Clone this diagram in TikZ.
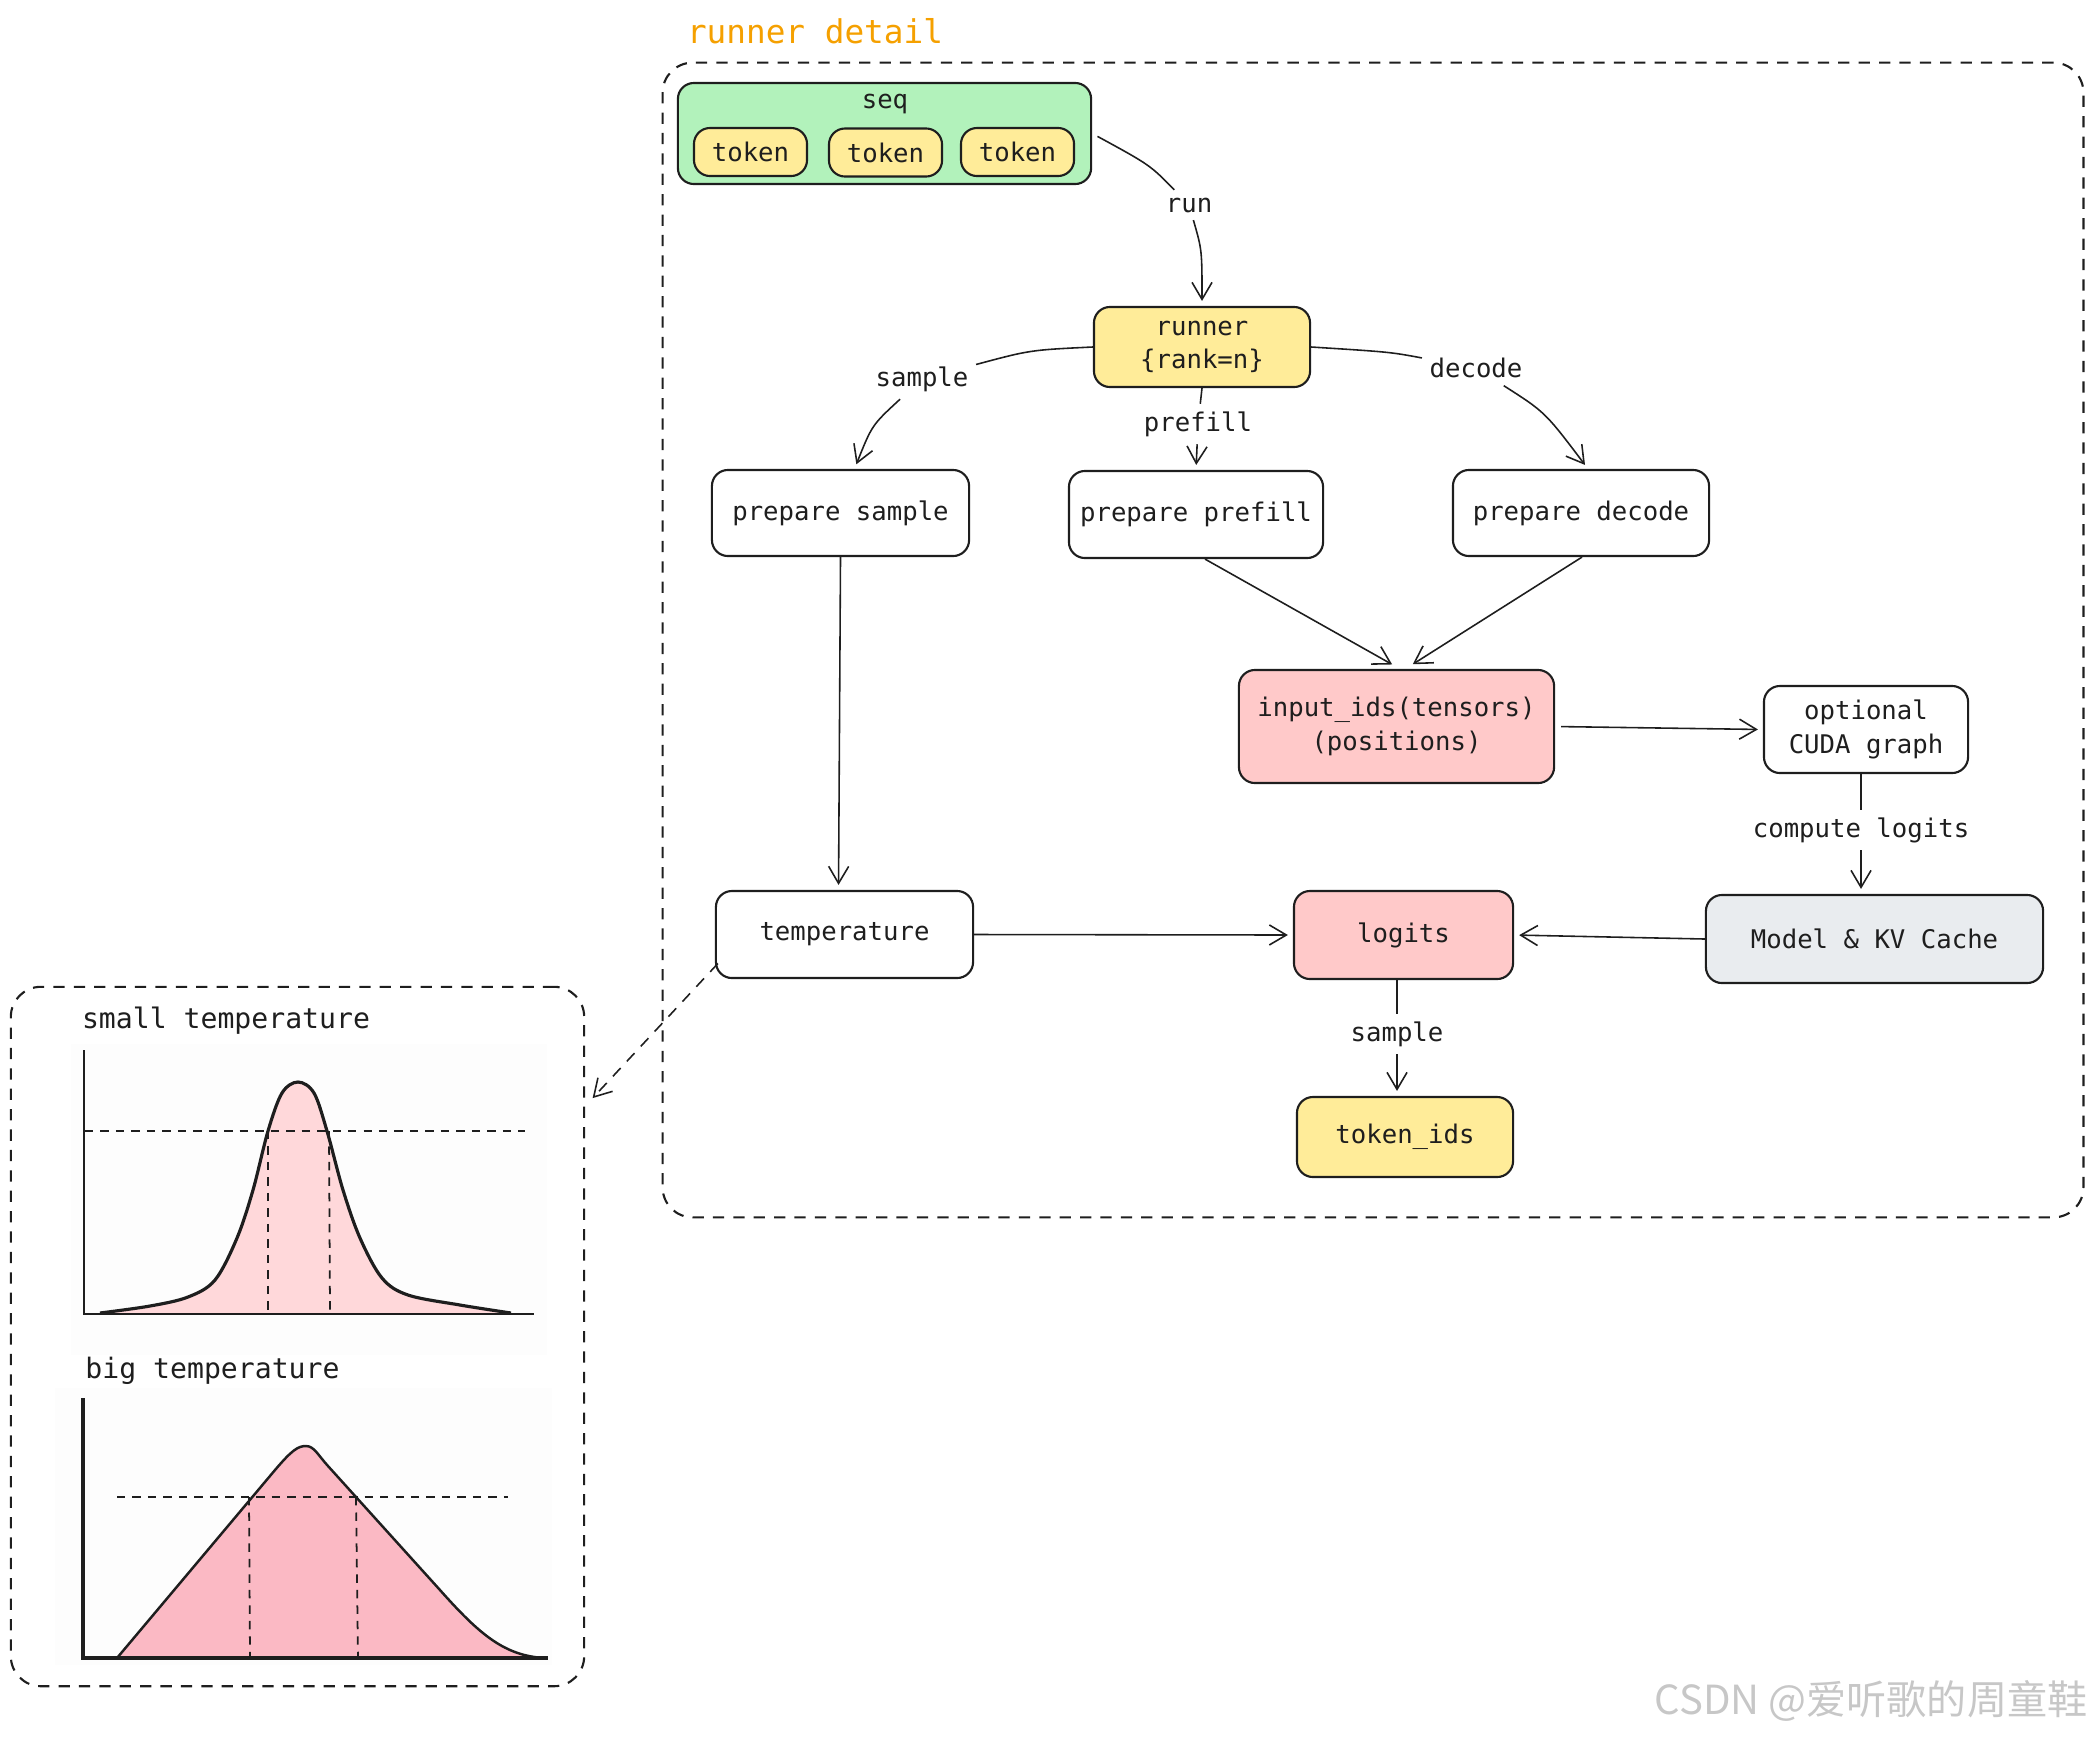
\documentclass[tikz,border=0pt]{standalone}
\usepackage{fontspec}
\setmainfont{DejaVu Sans Mono}
\newfontfamily\cjkfont{Noto Sans CJK SC}
\usetikzlibrary{arrows.meta,calc}
\definecolor{ink}{HTML}{1E1E1E}
\definecolor{gfill}{HTML}{B2F2BB}
\definecolor{yfill}{HTML}{FFEC99}
\definecolor{pfill}{HTML}{FFC9C9}
\definecolor{kfill}{HTML}{E9ECEF}
\definecolor{titlec}{HTML}{F5A000}
\definecolor{lightpink}{HTML}{FFD8DA}
\definecolor{midpink}{HTML}{FBB9C4}
\definecolor{chartbg}{HTML}{FDFDFD}
\begin{document}
\begin{tikzpicture}[x=0.01cm,y=-0.01cm,
  every node/.style={font=\fontsize{7.3}{9.6}\selectfont, text=ink},
  box/.style={draw=ink, line width=0.6pt, rounded corners=0.16cm, inner sep=0pt, align=center},
  lbl/.style={inner sep=2pt},
  ln/.style={draw=ink, line width=0.45pt},
  arr/.style={ln, -{Straight Barb[length=0.17cm,width=0.2cm]}, shorten >=0.05cm},
  dbox/.style={draw=ink, line width=0.6pt, dash pattern=on 3.2pt off 2.6pt, rounded corners=0.3cm, inner sep=0pt},
  chartdash/.style={draw=ink, line width=0.5pt, dash pattern=on 2.4pt off 2pt},
]
\useasboundingbox (0,0) rectangle (2092,1736);

% ---------- runner detail frame ----------
\node[font=\fontsize{9.3}{11}\selectfont, text=titlec] (title) at (815,31) {runner detail};
\node[dbox, minimum width=14.2cm, minimum height=11.54cm] (frame) at (1373,640) {};

% seq group
\node[box, fill=gfill, minimum width=4.13cm, minimum height=1.01cm] (seq) at (884.5,133.5) {};
\node (seqlbl) at (885,104) {seq};
\node[box, fill=yfill, minimum width=1.13cm, minimum height=0.48cm] (tok1) at (750.5,152) {token};
\node[box, fill=yfill, minimum width=1.13cm, minimum height=0.48cm] (tok2) at (885.5,152.5) {token};
\node[box, fill=yfill, minimum width=1.13cm, minimum height=0.48cm] (tok3) at (1017.5,152) {token};

% main nodes
\node[box, fill=yfill, minimum width=2.16cm, minimum height=0.80cm] (runner) at (1202,347) {runner\\\{rank=n\}};
\node[box, minimum width=2.57cm, minimum height=0.86cm] (psample) at (840.5,513) {prepare sample};
\node[box, minimum width=2.54cm, minimum height=0.87cm] (pprefill) at (1196,514.5) {prepare prefill};
\node[box, minimum width=2.56cm, minimum height=0.86cm] (pdecode) at (1581,513) {prepare decode};
\node[box, fill=pfill, minimum width=3.15cm, minimum height=1.13cm] (inputids) at (1396.5,726.5) {input\_ids(tensors)\\(positions)};
\node[box, minimum width=2.04cm, minimum height=0.87cm] (cuda) at (1866,729.5) {optional\\CUDA graph};
\node[box, minimum width=2.57cm, minimum height=0.87cm] (temperature) at (844.5,934.5) {temperature};
\node[box, fill=pfill, minimum width=2.19cm, minimum height=0.88cm] (logits) at (1403.5,935) {logits};
\node[box, fill=kfill, minimum width=3.37cm, minimum height=0.88cm] (model) at (1874.5,939) {Model \& KV Cache};
\node[box, fill=yfill, minimum width=2.16cm, minimum height=0.80cm] (tokenids) at (1405,1137) {token\_ids};

% edge labels
\node[lbl] (lrun) at (1189,205) {run};
\node[lbl] (lsample) at (922,379) {sample};
\node[lbl] (lprefill) at (1198,424) {prefill};
\node[lbl] (ldecode) at (1476,368) {decode};
\node[lbl] (lcompute) at (1861,830) {compute logits};
\node[lbl] (lsample2) at (1397,1034) {sample};

% connectors
\draw[ln, shorten <=0.06cm] (seq.east) .. controls (1150,165) .. (lrun);
\draw[arr] (lrun) .. controls (1202,250) .. (runner.north);
\draw[ln] (runner.west) .. controls (1030,350) .. (lsample);
\draw[arr] (lsample) .. controls (872,425) .. ($(psample.north)+(14,0)$);
\draw[ln] (runner.south) -- (lprefill);
\draw[arr] (lprefill) -- (pprefill.north);
\draw[ln] (runner.east) .. controls (1390,352) .. (ldecode);
\draw[arr] (ldecode) .. controls (1545,412) .. ($(pdecode.north)+(7,0)$);
\draw[arr] ($(pprefill.south)+(9,0)$) -- ($(inputids.north)+(0,-2)$);
\draw[arr] ($(pdecode.south)+(1,0)$) -- ($(inputids.north)+(12,-2)$);
\draw[arr, shorten <=0.06cm] (inputids.east) -- (cuda.west);
\draw[ln] (cuda.south -| lcompute) -- (lcompute);
\draw[arr] (lcompute) -- (model.north -| lcompute);
\draw[arr] (model.west) -- (logits.east);
\draw[arr] (temperature.east) -- (logits.west);
\draw[arr] (psample.south) -- ($(temperature.north)+(-6,0)$);
\draw[ln] (logits.south -| lsample2) -- (lsample2);
\draw[arr] (lsample2) -- (tokenids.north -| lsample2);

% ---------- temperature panel ----------
\node[dbox, minimum width=5.73cm, minimum height=6.99cm] (tempbox) at (297.5,1336.5) {};
\draw[arr, dash pattern=on 3.2pt off 2.6pt] ($(temperature.west)+(3,29)$) -- ($(tempbox.north east)+(4,116)$);

\node[font=\fontsize{8}{9.6}\selectfont] (smalltxt) at (226,1021) {small temperature};
\node[font=\fontsize{8}{9.6}\selectfont] (bigtxt) at (212.5,1371) {big temperature};

% small chart
\fill[chartbg] (71,1044) rectangle (547,1355);
\fill[lightpink] plot[smooth, tension=0.55] coordinates {(100,1313) (150,1306) (188,1297) (215,1280) (237,1238) (253,1190) (268,1131) (282,1093) (298,1082) (314,1093) (327,1131) (343,1190) (360,1238) (382,1278) (408,1295) (460,1305) (511,1313)} -- cycle;
\draw[chartdash] (85,1131) -- (525,1131);
\draw[chartdash] (268,1131) -- (268,1313);
\draw[chartdash] (329,1131) -- (330,1313);
\draw[ink, line width=0.9pt] plot[smooth, tension=0.55] coordinates {(100,1313) (150,1306) (188,1297) (215,1280) (237,1238) (253,1190) (268,1131) (282,1093) (298,1082) (314,1093) (327,1131) (343,1190) (360,1238) (382,1278) (408,1295) (460,1305) (511,1313)};
\draw[ink, line width=0.7pt] (84,1050) -- (84,1314) -- (534,1314);

% big chart
\fill[chartbg] (55,1388) rectangle (552,1665);
\fill[midpink] (117,1658) -- (275,1470) .. controls (292,1450) and (298,1446) .. (306,1446) .. controls (314,1446) and (318,1455) .. (328,1466) -- (440,1590) .. controls (480,1635) and (505,1656) .. (545,1658) -- cycle;
\draw[chartdash] (117,1497) -- (508,1497);
\draw[chartdash] (249,1497) -- (250,1658);
\draw[chartdash] (356,1497) -- (358,1658);
\draw[ink, line width=0.7pt] (117,1658) -- (275,1470) .. controls (292,1450) and (298,1446) .. (306,1446) .. controls (314,1446) and (318,1455) .. (328,1466) -- (440,1590) .. controls (480,1635) and (505,1656) .. (545,1658);
\draw[ink, line width=1.2pt] (83,1398) -- (83,1658) -- (548,1658);

% watermark
\node[font=\cjkfont\fontsize{11.4}{13}\selectfont, text=black!22, anchor=east, inner sep=0pt] (wm) at (2088,1701) {CSDN @爱听歌的周童鞋};
\end{tikzpicture}
\end{document}
